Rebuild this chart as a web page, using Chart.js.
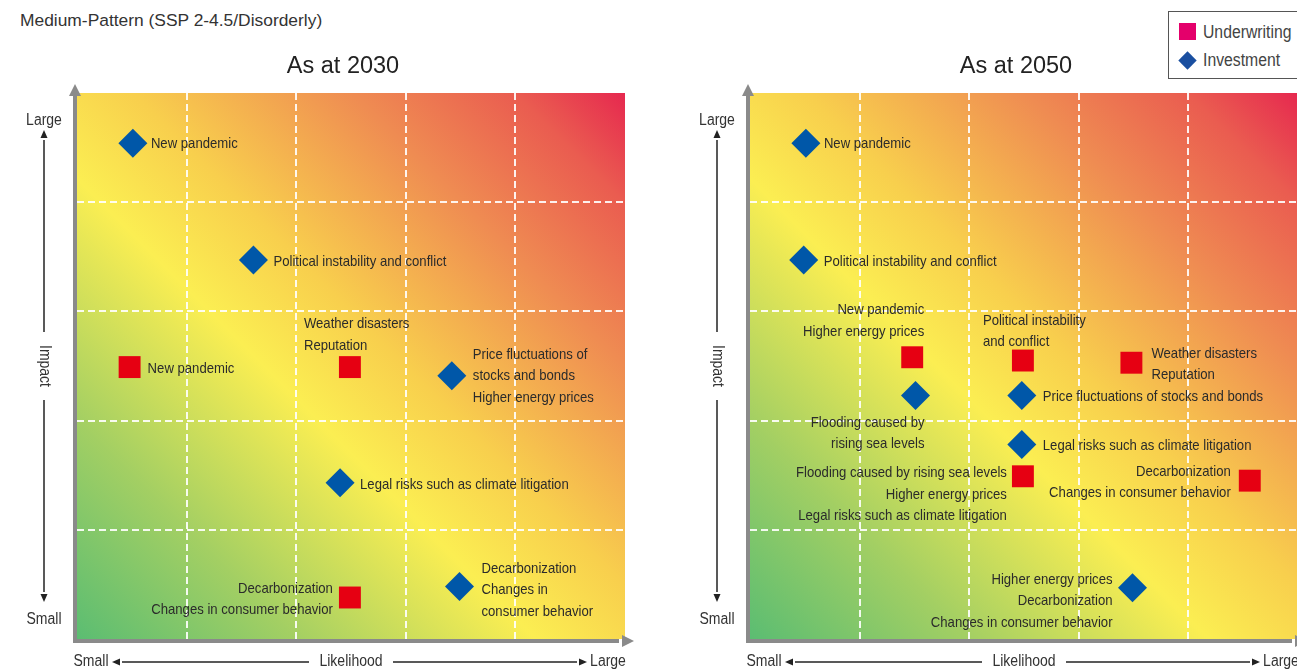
<!DOCTYPE html>
<html>
<head>
<meta charset="utf-8">
<script src="https://cdn.jsdelivr.net/npm/chart.js@4.4.1/dist/chart.umd.min.js"></script>
<style>
  body { margin: 0; width: 1297px; height: 672px; overflow: hidden; position: relative; background: #fff; }
  canvas { position: absolute; top: 0; }
  #chart2030 { left: 0; }
  #chart2050 { left: 673px; }
  .sub { position: absolute; left: 20px; top: 10px; font: 17.4px "Liberation Sans", Arial, sans-serif; color: #333; white-space: nowrap; }
  .legend { position: absolute; left: 1168px; top: 11px; width: 150px; height: 66px; border: 1px solid #555; background: #fff;
    font: 18px "Liberation Sans", Arial, sans-serif; color: #444; }
  .legend div { position: absolute; left: 34px; white-space: nowrap; line-height: 20px; transform: scaleX(0.875); transform-origin: left center; }
  .legend .sw { position: absolute; }
</style>
</head>
<body>
<div class="sub">Medium-Pattern (SSP 2-4.5/Disorderly)</div>
<canvas id="chart2030" width="673" height="672"></canvas>
<canvas id="chart2050" width="673" height="672"></canvas>
<div class="legend">
  <span class="sw" style="left:10px;top:11px;width:17px;height:17px;background:#e4006b"></span><div style="top:10px">Underwriting</div>
  <span class="sw" style="left:12px;top:42px;width:13px;height:13px;background:#1a4fa0;transform:rotate(45deg)"></span><div style="top:38px">Investment</div>
</div>
<script>
// both axes run from 0 (small) to 5 (large), 5x5 grid
const AXIS_MAX = 5;

// ---- As at 2030 ----
const underwriting2030 = [
  { x: 0.48, y: 2.49 },
  { x: 2.49, y: 2.49 },
  { x: 2.49, y: 0.38 },
];
const underwriting2030Text = [
  ['New pandemic'],
  ['Weather disasters', 'Reputation'],
  ['Decarbonization', 'Changes in consumer behavior'],
];
const investment2030 = [
  { x: 0.51, y: 4.54 },
  { x: 1.61, y: 3.47 },
  { x: 3.42, y: 2.41 },
  { x: 2.40, y: 1.43 },
  { x: 3.49, y: 0.48 },
];
const investment2030Text = [
  ['New pandemic'],
  ['Political instability and conflict'],
  ['Price fluctuations of', 'stocks and bonds', 'Higher energy prices'],
  ['Legal risks such as climate litigation'],
  ['Decarbonization', 'Changes in', 'consumer behavior'],
];

// ---- As at 2050 ----
const underwriting2050 = [
  { x: 1.48, y: 2.58 },
  { x: 2.49, y: 2.55 },
  { x: 3.48, y: 2.53 },
  { x: 2.49, y: 1.49 },
  { x: 4.56, y: 1.45 },
];
const underwriting2050Text = [
  ['New pandemic', 'Higher energy prices'],
  ['Political instability', 'and conflict'],
  ['Weather disasters', 'Reputation'],
  ['Flooding caused by rising sea levels', 'Higher energy prices', 'Legal risks such as climate litigation'],
  ['Decarbonization', 'Changes in consumer behavior'],
];
const investment2050 = [
  { x: 0.51, y: 4.54 },
  { x: 0.49, y: 3.47 },
  { x: 1.51, y: 2.23 },
  { x: 2.48, y: 2.23 },
  { x: 2.48, y: 1.78 },
  { x: 3.49, y: 0.47 },
];
const investment2050Text = [
  ['New pandemic'],
  ['Political instability and conflict'],
  ['Flooding caused by', 'rising sea levels'],
  ['Price fluctuations of stocks and bonds'],
  ['Legal risks such as climate litigation'],
  ['Higher energy prices', 'Decarbonization', 'Changes in consumer behavior'],
];

// where each label sits relative to its marker: [align, dx, dy of first line]
const underwriting2030Place = [['left', 18, 2], ['left', -46, -43], ['right', -17, -9]];
const investment2030Place = [['left', 18, 1], ['left', 20, 2], ['left', 21, -21], ['left', 20, 2], ['left', 22, -18]];
const underwriting2050Place = [['right', 12, -47], ['left', -40, -40], ['left', 20, -9], ['right', -16, -3], ['right', -19, -9]];
const investment2050Place = [['left', 18, 1], ['left', 20, 2], ['right', 9, 27], ['left', 21, 1], ['left', 21, 1], ['right', -20, -8]];

// the original uses a condensed face; squeeze Liberation Sans to match
const FONT = '"Liberation Sans", Arial, sans-serif';
const SQUEEZE = 0.875;
const LINE_H = 21.5;

function txt(ctx, s, x, y) {
  ctx.save();
  ctx.translate(x, y);
  ctx.scale(SQUEEZE, 1);
  ctx.fillText(s, 0, 0);
  ctx.restore();
}

const riskMap = {
  id: 'riskMap',
  beforeDraw(chart) {
    const { ctx, chartArea: a } = chart;
    const g = ctx.createLinearGradient(a.left, a.bottom, a.right, a.top);
    g.addColorStop(0, '#5bbd72');
    g.addColorStop(0.2, '#a3cf63');
    g.addColorStop(0.42, '#fbee52');
    g.addColorStop(0.55, '#f8cf4d');
    g.addColorStop(0.75, '#ef8c52');
    g.addColorStop(0.9, '#ea5c50');
    g.addColorStop(1, '#e6284f');
    ctx.save();
    ctx.fillStyle = g;
    ctx.fillRect(a.left, a.top, a.width, a.height);
    ctx.restore();
  },
  afterDraw(chart, args, opts) {
    const { ctx, chartArea: a } = chart;
    ctx.save();

    // gray axes with arrow heads
    ctx.fillStyle = '#8a8a8a';
    ctx.fillRect(a.left - 4, a.top + 3, 4, a.bottom - a.top + 1);
    ctx.fillRect(a.left - 4, a.bottom, a.width - 2, 4);
    ctx.beginPath();
    ctx.moveTo(a.left - 2, a.top - 9);
    ctx.lineTo(a.left - 8, a.top + 3);
    ctx.lineTo(a.left + 4, a.top + 3);
    ctx.fill();
    ctx.beginPath();
    ctx.moveTo(a.right + 9, a.bottom + 2);
    ctx.lineTo(a.right - 3, a.bottom - 4);
    ctx.lineTo(a.right - 3, a.bottom + 8);
    ctx.fill();

    // axis captions
    ctx.fillStyle = '#333';
    ctx.strokeStyle = '#222';
    ctx.lineWidth = 1.5;
    ctx.font = '16px ' + FONT;
    ctx.textAlign = 'center';
    ctx.textBaseline = 'middle';
    const sx = a.left - 33;
    const midY = (a.top + a.bottom) / 2;
    txt(ctx, 'Large', sx, a.top + 28);
    txt(ctx, 'Small', sx, a.bottom - 19);
    line(ctx, sx, midY - 34, sx, a.top + 47);
    arrow(ctx, sx, a.top + 42, 0, -1);
    line(ctx, sx, midY + 34, sx, a.bottom - 47);
    arrow(ctx, sx, a.bottom - 42, 0, 1);
    ctx.save();
    ctx.translate(sx, midY);
    ctx.rotate(Math.PI / 2);
    txt(ctx, 'Impact', 0, 0);
    ctx.restore();

    const by = a.bottom + 23;
    const midX = (a.left + a.right) / 2;
    txt(ctx, 'Small', a.left + 14, by);
    txt(ctx, 'Likelihood', midX, by);
    txt(ctx, 'Large', a.right - 17, by);
    line(ctx, midX - 42, by, a.left + 45, by);
    arrow(ctx, a.left + 40, by, -1, 0);
    line(ctx, midX + 42, by, a.right - 48, by);
    arrow(ctx, a.right - 43, by, 1, 0);

    // panel title
    ctx.fillStyle = '#222';
    ctx.font = '23.5px ' + FONT;
    ctx.fillText(opts.title, midX - 8, 67);

    // marker labels
    ctx.fillStyle = '#2b2b2b';
    ctx.font = '15px ' + FONT;
    chart.data.datasets.forEach((ds, i) => {
      chart.getDatasetMeta(i).data.forEach((pt, j) => {
        const [align, dx, dy] = ds.place[j];
        ctx.textAlign = align;
        ds.text[j].forEach((t, k) => txt(ctx, t, pt.x + dx, pt.y + dy + k * LINE_H));
      });
    });
    ctx.restore();
  },
};

function line(ctx, x1, y1, x2, y2) {
  ctx.beginPath();
  ctx.moveTo(x1, y1);
  ctx.lineTo(x2, y2);
  ctx.stroke();
}

function arrow(ctx, x, y, dx, dy) {
  ctx.beginPath();
  ctx.moveTo(x + dx * 5, y + dy * 5);
  ctx.lineTo(x - dx * 3 + dy * 3.5, y - dy * 3 + dx * 3.5);
  ctx.lineTo(x - dx * 3 - dy * 3.5, y - dy * 3 - dx * 3.5);
  ctx.fillStyle = '#222';
  ctx.fill();
  ctx.fillStyle = '#333';
}

function axis() {
  return {
    type: 'linear',
    min: 0,
    max: AXIS_MAX,
    ticks: { display: false, stepSize: 1 },
    grid: {
      drawTicks: false,
      lineWidth: 2,
      color: c => (c.tick.value > 0 && c.tick.value < AXIS_MAX ? 'rgba(255,255,255,0.9)' : 'rgba(0,0,0,0)'),
    },
    border: { display: false, dash: [7, 4] },
  };
}

function drawPanel(id, title, under, underText, underPlace, invest, investText, investPlace) {
  new Chart(document.getElementById(id), {
    type: 'scatter',
    data: {
      datasets: [
        {
          label: 'Underwriting',
          data: under,
          text: underText,
          place: underPlace,
          pointStyle: 'rect',
          pointRadius: 15.5,
          backgroundColor: '#e60012',
          borderWidth: 0,
          clip: false,
        },
        {
          label: 'Investment',
          data: invest,
          text: investText,
          place: investPlace,
          pointStyle: 'rectRot',
          pointRadius: 14.5,
          backgroundColor: '#0057a8',
          borderWidth: 0,
          clip: false,
        },
      ],
    },
    options: {
      responsive: false,
      animation: false,
      events: [],
      layout: { padding: { left: 77, top: 93, right: 48, bottom: 33 } },
      scales: { x: axis(), y: axis() },
      plugins: {
        legend: { display: false },
        tooltip: { enabled: false },
        riskMap: { title },
      },
    },
    plugins: [riskMap],
  });
}

drawPanel('chart2030', 'As at 2030',
  underwriting2030, underwriting2030Text, underwriting2030Place,
  investment2030, investment2030Text, investment2030Place);
drawPanel('chart2050', 'As at 2050',
  underwriting2050, underwriting2050Text, underwriting2050Place,
  investment2050, investment2050Text, investment2050Place);
</script>
</body>
</html>
